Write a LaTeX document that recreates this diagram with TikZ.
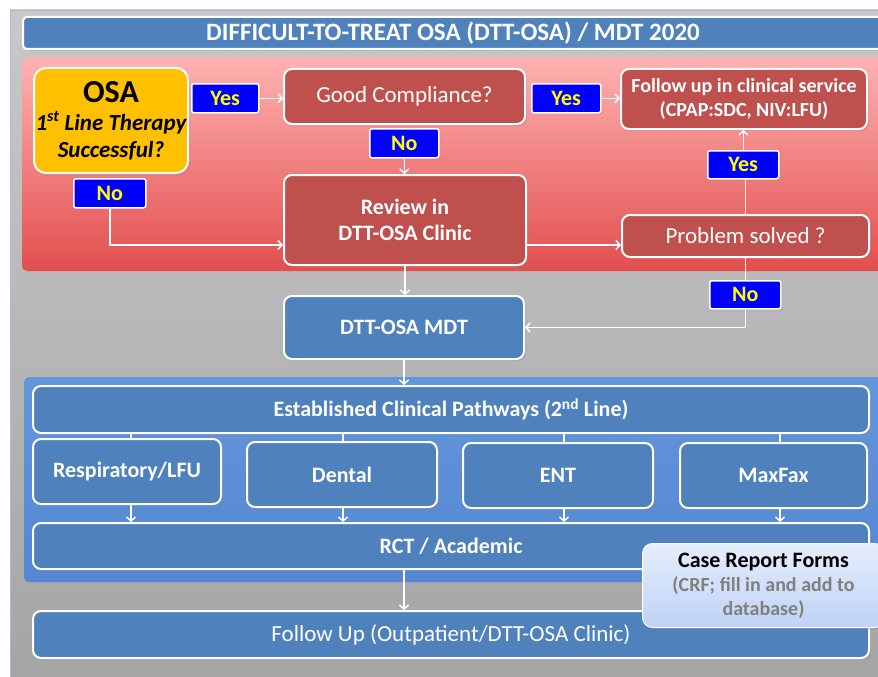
\documentclass[tikz,border=0pt]{standalone}
\usepackage{fontspec}
\setmainfont{Carlito}
\usetikzlibrary{arrows.meta,shadows}
\definecolor{rbox}{RGB}{192,80,77}
\definecolor{bbox}{RGB}{79,129,189}
\definecolor{osay}{RGB}{255,192,0}
\definecolor{lblue}{RGB}{0,0,255}
\definecolor{lyel}{RGB}{255,255,0}
\definecolor{crfgray}{RGB}{128,128,128}
\begin{document}
\begin{tikzpicture}[x=1pt,y=-1pt,
 box/.style={draw=white,line width=2pt,rounded corners=8pt,text=white,anchor=north west,inner sep=0pt,align=center,
   drop shadow={opacity=0.25,shadow xshift=2pt,shadow yshift=-2pt}},
 redbox/.style={box,fill=rbox},
 bluebox/.style={box,fill=bbox},
 bf/.style={font=\fontsize{22}{26}\selectfont\bfseries},
 rg/.style={font=\fontsize{23}{26}\selectfont},
 lbl/.style={draw=white,line width=1.5pt,rounded corners=2pt,fill=lblue,text=lyel,
   font=\fontsize{22}{24}\selectfont\bfseries,anchor=north west,inner sep=0pt,
   drop shadow={opacity=0.25,shadow xshift=1.5pt,shadow yshift=-1.5pt}},
 conn/.style={draw=white,line width=1.5pt},
 arr/.style={conn,-{Straight Barb[length=4pt,width=9pt]}},
]
\useasboundingbox (0,0) rectangle (878,677);
% background panels
\fill[white] (0,0) rectangle (878,677);
\shade[top color={rgb,255:red,200;green,200;blue,200},bottom color={rgb,255:red,165;green,165;blue,165},draw={rgb,255:red,170;green,190;blue,215}] (10,10) rectangle (880,680);
\node[bluebox,minimum width=860,minimum height=32,rounded corners=4pt,font=\fontsize{25}{28}\selectfont\bfseries] (title) at (22,16) {DIFFICULT-TO-TREAT OSA (DTT-OSA) / MDT 2020};
\shade[top color={rgb,255:red,255;green,178;blue,178},bottom color={rgb,255:red,226;green,78;blue,78},rounded corners=5pt] (22,57) rectangle (884,271);
\shade[top color={rgb,255:red,100;green,150;blue,220},middle color={rgb,255:red,145;green,190;blue,242},bottom color={rgb,255:red,85;green,135;blue,210},rounded corners=5pt] (24,377) rectangle (884,582);

% top section
\node[box,fill=osay,text=black,minimum width=154,minimum height=105,rounded corners=12pt,
  font=\fontsize{23}{27}\selectfont\bfseries\itshape] (osa) at (33,67)
  {{\fontsize{32}{34}\selectfont\upshape OSA}\\[1pt]
   1\textsuperscript{st} Line Therapy\\
   Successful?};
\node[lbl,minimum width=67,minimum height=29] (y1) at (191,83) {Yes};
\node[redbox,rg,minimum width=241,minimum height=55] (gc) at (283,68) {Good Compliance?};
\node[lbl,minimum width=69,minimum height=29] (y2) at (531,83) {Yes};
\node[redbox,minimum width=246,minimum height=60,font=\fontsize{20}{24}\selectfont\bfseries] (fu) at (620,68) {Follow up in clinical service\\(CPAP:SDC, NIV:LFU)};
\node[lbl,minimum width=69,minimum height=29] (n1) at (369,128) {No};
\node[lbl,minimum width=72,minimum height=29] (n0) at (73,178) {No};
\node[redbox,minimum width=242,minimum height=90,font=\fontsize{22}{26}\selectfont\bfseries] (rev) at (283,174) {Review in\\DTT-OSA Clinic};
\node[lbl,minimum width=71,minimum height=28] (y3) at (707,150) {Yes};
\node[redbox,rg,minimum width=247,minimum height=42] (ps) at (621,214) {Problem solved ?};
\node[lbl,minimum width=71,minimum height=28] (n4) at (709,280) {No};
\node[bluebox,bf,minimum width=240,minimum height=63] (mdt) at (283,295) {DTT-OSA MDT};

% pathways
\node[bluebox,bf,minimum width=836,minimum height=47] (est) at (32,385) {Established Clinical Pathways (2\textsuperscript{nd} Line)};
\node[bluebox,bf,minimum width=188,minimum height=65] (resp) at (32,438) {Respiratory/LFU};
\node[bluebox,bf,minimum width=190,minimum height=65] (dent) at (246,441) {Dental};
\node[bluebox,bf,minimum width=190,minimum height=65] (ent) at (462,442) {ENT};
\node[bluebox,bf,minimum width=187,minimum height=65] (mf) at (679,442) {MaxFax};
\node[bluebox,bf,minimum width=836,minimum height=46] (rct) at (32,522) {RCT / Academic};
\node[bluebox,rg,minimum width=836,minimum height=47] (fup) at (32,610) {Follow Up (Outpatient/DTT-OSA Clinic)};
\coordinate (xresp) at (131,0);
\coordinate (xdent) at (343,0);
\coordinate (xent) at (564,0);
\coordinate (xmf) at (780,0);

% connectors
\draw[arr] (y1.east) -- (y1.east -| gc.west);
\draw[arr] (y2.east) -- (y2.east -| fu.west);
\draw[arr] (n1.south) -- (n1.south |- rev.north);
\draw[arr] (n0.south) |- ([yshift=-25pt]rev.west);
\draw[arr] ([yshift=-25pt]rev.east) -- ([yshift=-25pt]rev.east -| ps.west);
\draw[conn] (ps.north) -- (ps.north |- y3.south);
\draw[arr] (y3.north) -- (y3.north |- fu.south);
\draw[conn] (ps.south) -- (ps.south |- n4.north);
\draw[arr] (n4.south) |- (mdt.east);
\draw[arr] (rev.south) -- (rev.south |- mdt.north);
\draw[arr] (mdt.south) -- (mdt.south |- est.north);
\foreach \b in {resp,dent,ent,mf}{
  \draw[conn] (x\b |- est.south) -- (x\b |- \b.north);
  \draw[arr] (x\b |- \b.south) -- (x\b |- rct.north);
}
\draw[arr] (rct.south -| mdt.south) -- (fup.north -| mdt.south);

% case report forms
\node[draw=white,line width=1pt,rounded corners=10pt,top color={rgb,255:red,230;green,238;blue,252},bottom color={rgb,255:red,190;green,210;blue,245},
  minimum width=242,minimum height=84,anchor=north west,inner sep=0pt,align=center,
  font=\fontsize{20}{24}\selectfont\bfseries,
  drop shadow={opacity=0.3,shadow xshift=2pt,shadow yshift=-2pt}] (crf) at (642,543)
  {{\fontsize{22}{24}\selectfont Case Report Forms}\\
   {\color{crfgray}(CRF; fill in and add to}\\
   {\color{crfgray}database)}};
\end{tikzpicture}
\end{document}
